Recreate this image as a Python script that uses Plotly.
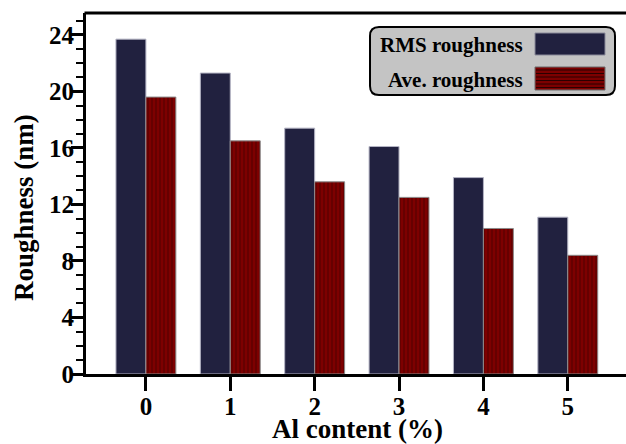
import plotly.graph_objects as go

# Surface roughness versus Al doping level
al_content = [0, 1, 2, 3, 4, 5]
rms_roughness = [23.7, 21.3, 17.4, 16.1, 13.9, 11.1]
ave_roughness = [19.6, 16.5, 13.6, 12.5, 10.3, 8.4]
series_names = ["RMS roughness", "Ave. roughness"]

NAVY = "#21213f"
DARK_RED = "#7d0000"
SERIF = "Liberation Serif, Times New Roman, serif"

W, H = 626, 444
M_L, M_R, M_T, M_B = 86, 0, 13, 70
PW, PH = W - M_L - M_R, H - M_T - M_B


def px_x(x):
    return (x - M_L) / PW


def px_y(y):
    return (H - M_B - y) / PH


fig = go.Figure()
fig.add_trace(go.Bar(
    x=al_content, y=rms_roughness, name=series_names[0],
    marker=dict(color=NAVY, line=dict(color="#b4b4c4", width=1)),
    showlegend=False,
))
fig.add_trace(go.Bar(
    x=al_content, y=ave_roughness, name=series_names[1],
    marker=dict(
        color=DARK_RED,
        line=dict(color="#8a8a8a", width=1),
        pattern=dict(shape="|", size=4, solidity=0.28,
                     fgcolor="#2a0000", bgcolor=DARK_RED),
    ),
    showlegend=False,
))

tick_font = dict(family=SERIF, size=25, color="black", weight="bold")

fig.update_layout(
    width=W, height=H,
    margin=dict(l=M_L, r=M_R, t=M_T, b=M_B),
    paper_bgcolor="white", plot_bgcolor="white",
    barmode="group", bargap=0.29, bargroupgap=0,
    xaxis=dict(
        range=[-0.71, 5.69], tickmode="array", tickvals=al_content,
        ticktext=[str(v) for v in al_content],
        ticks="outside", ticklen=14, tickwidth=3, tickcolor="black",
        showline=True, linewidth=3, linecolor="black",
        showgrid=False, zeroline=False, tickfont=tick_font,
        ticklabelstandoff=-6,
    ),
    yaxis=dict(
        range=[0, 25.55], dtick=4, tick0=0,
        ticks="outside", ticklen=12, tickwidth=3, tickcolor="black",
        minor=dict(dtick=1, ticks="outside", ticklen=7, tickwidth=2,
                   tickcolor="black", showgrid=False),
        showline=True, linewidth=3, linecolor="black",
        showgrid=False, zeroline=False, tickfont=tick_font,
        ticklabelstandoff=-8,
    ),
)

# top frame line (the right side runs off the canvas)
fig.add_shape(type="line", xref="paper", yref="paper",
              x0=px_x(M_L - 1.5), x1=1, y0=1.0, y1=1.0,
              line=dict(color="black", width=3))

# axis titles
fig.add_annotation(text="Roughness (nm)", xref="paper", yref="paper",
                   x=px_x(24), y=px_y(208), textangle=-90, showarrow=False,
                   xanchor="center", yanchor="middle",
                   font=dict(family=SERIF, size=27, color="black", weight="bold"))
fig.add_annotation(text="Al content (%)", xref="paper", yref="paper",
                   x=px_x(357), y=px_y(429), showarrow=False,
                   xanchor="center", yanchor="middle",
                   font=dict(family=SERIF, size=27, color="black", weight="bold"))

# legend box with rounded corners
bx0, bx1, by0, by1, r = 370, 615, 27, 95, 9


def P(x, y):
    return f"{px_x(x)},{px_y(y)}"


path = (f"M {P(bx0 + r, by0)} L {P(bx1 - r, by0)} Q {P(bx1, by0)} {P(bx1, by0 + r)} "
        f"L {P(bx1, by1 - r)} Q {P(bx1, by1)} {P(bx1 - r, by1)} "
        f"L {P(bx0 + r, by1)} Q {P(bx0, by1)} {P(bx0, by1 - r)} "
        f"L {P(bx0, by0 + r)} Q {P(bx0, by0)} {P(bx0 + r, by0)} Z")
fig.add_shape(type="path", xref="paper", yref="paper", path=path,
              fillcolor="#c4c4c4", line=dict(color="black", width=2), layer="above")

# legend swatches
sx0, sx1 = 535, 605
rows = [(33, 55), (67, 90)]
fig.add_shape(type="rect", xref="paper", yref="paper",
              x0=px_x(sx0), x1=px_x(sx1), y0=px_y(rows[0][1]), y1=px_y(rows[0][0]),
              fillcolor=NAVY, line=dict(color="#8a8a9a", width=1), layer="above")
fig.add_shape(type="rect", xref="paper", yref="paper",
              x0=px_x(sx0), x1=px_x(sx1), y0=px_y(rows[1][1]), y1=px_y(rows[1][0]),
              fillcolor=DARK_RED, line=dict(color="#6a6a6a", width=1), layer="above")
yy = rows[1][0] + 3
while yy < rows[1][1] - 1:
    fig.add_shape(type="line", xref="paper", yref="paper",
                  x0=px_x(sx0 + 1), x1=px_x(sx1 - 1), y0=px_y(yy), y1=px_y(yy),
                  line=dict(color="#2a0000", width=1), layer="above")
    yy += 3.5

for name, (ya, yb) in zip(series_names, rows):
    fig.add_annotation(text=name, xref="paper", yref="paper",
                       x=px_x(525), y=px_y((ya + yb) / 2 + 1), showarrow=False,
                       xanchor="right", yanchor="middle",
                       font=dict(family=SERIF, size=21, color="black", weight="bold"))

fig.write_html("out.html")
